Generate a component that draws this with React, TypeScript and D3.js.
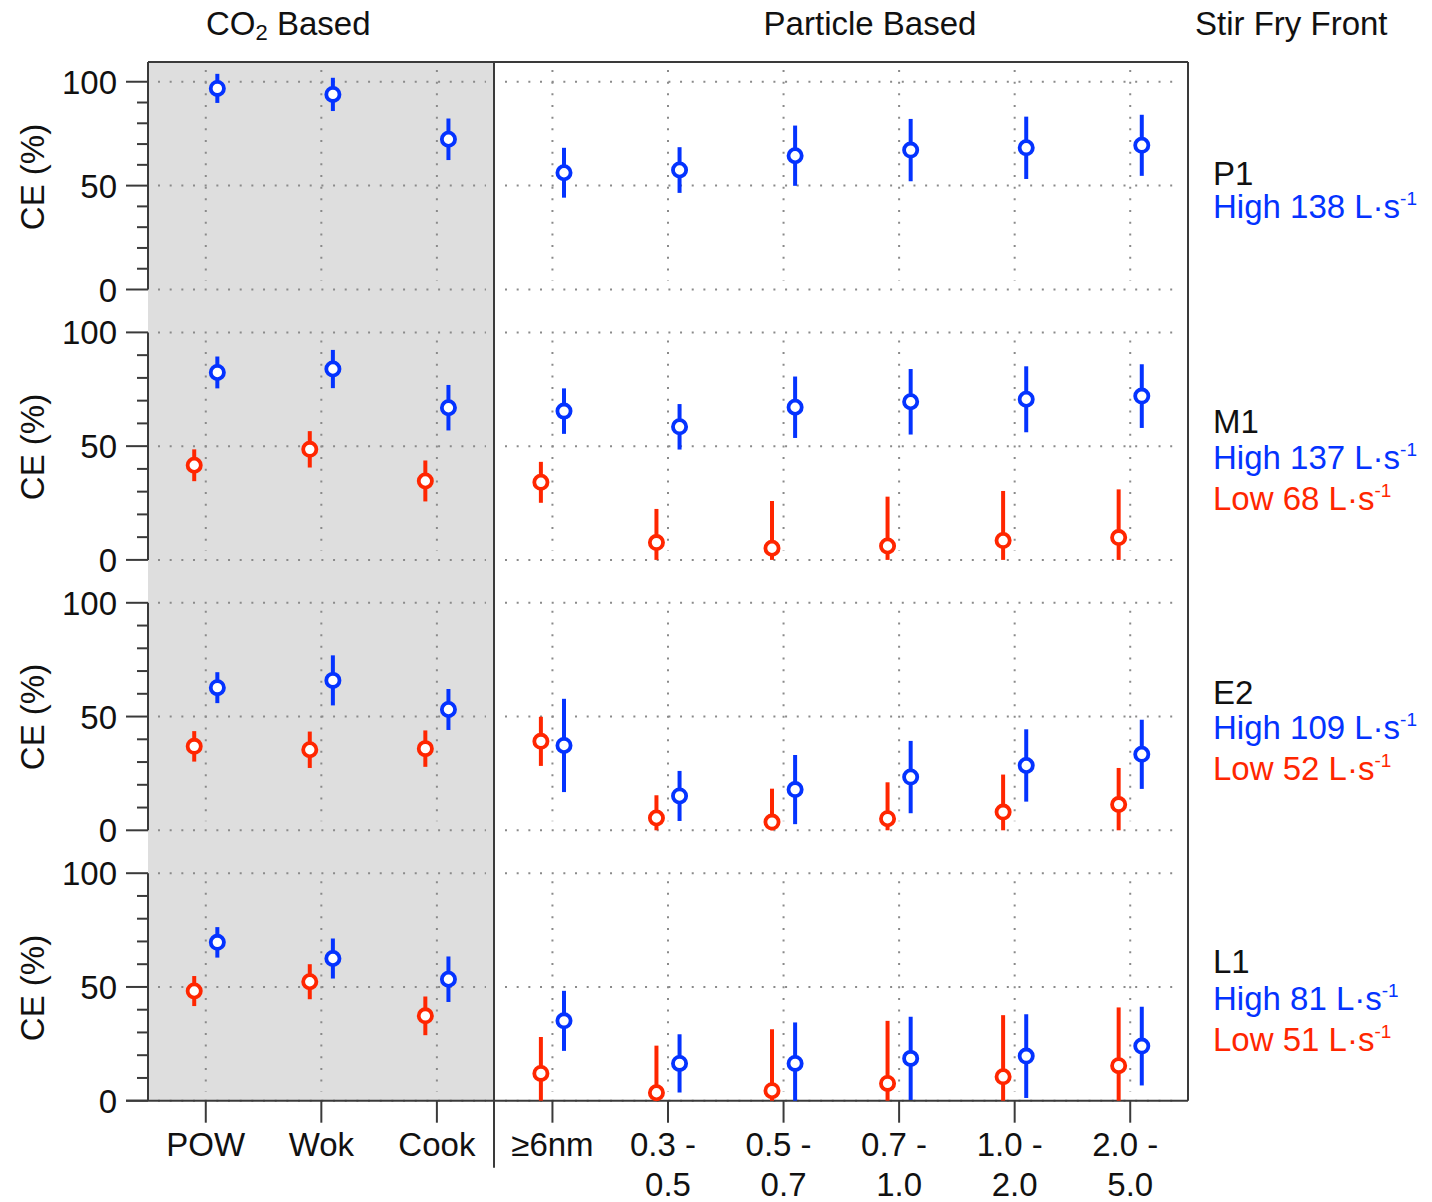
import React from "react";
import * as d3 from "d3";

// ---------- data ----------
const categories = ["POW", "Wok", "Cook", "≥6nm", "0.3-0.5", "0.5-0.7", "0.7-1.0", "1.0-2.0", "2.0-5.0"];
const tickLabelLines = [
  ["POW"], ["Wok"], ["Cook"], ["≥6nm"],
  ["0.3 -", "0.5"], ["0.5 -", "0.7"], ["0.7 -", "1.0"], ["1.0 -", "2.0"], ["2.0 -", "5.0"],
];
const yMajorTicks = [0, 50, 100];
const yMinorTicks = [10, 20, 30, 40, 60, 70, 80, 90];

const panelNames = ["P1", "M1", "E2", "L1"];
const highFlows = [138, 137, 109, 81];
const lowFlows = [null, 68, 52, 51];

// capture efficiency (%) and its uncertainty, per category
const p1High = [96.8, 93.9, 72.3, 56.2, 57.5, 64.4, 67.1, 68.2, 69.4];
const p1HighErr = [7, 8, 10, 12, 11, 14.5, 15, 15, 14.7];

const m1High = [82.4, 83.9, 66.9, 65.4, 58.5, 67.1, 69.5, 70.6, 72.0];
const m1HighErr = [7, 8.4, 10, 10, 10, 13.5, 14.4, 14.5, 14];
const m1Low = [41.6, 48.6, 34.7, 34.1, 7.6, 5.1, 6.1, 8.5, 9.8];
const m1LowErr = [7, 8, 9, 9, 14.8, 20.8, 21.7, 21.8, 21.2];

const e2High = [62.7, 65.9, 53.1, 37.3, 15.1, 17.9, 23.4, 28.5, 33.4];
const e2HighErr = [6.8, 11, 9, 20.5, 11, 15.2, 15.9, 15.9, 15.2];
const e2Low = [36.9, 35.4, 35.9, 39.1, 5.4, 3.6, 5.1, 8.0, 11.3];
const e2LowErr = [6.7, 8, 8, 10.8, 10, 14.7, 16, 16.5, 16.1];

const l1High = [69.6, 62.5, 53.4, 35.1, 16.4, 16.4, 18.6, 19.6, 24.0];
const l1HighErr = [6.7, 8.8, 10, 13.2, 12.8, 18, 18.3, 18.4, 17.3];
const l1Low = [48.2, 52.3, 37.3, 12.0, 3.5, 4.4, 7.6, 10.5, 15.4];
const l1LowErr = [6.6, 7.7, 8.5, 16, 20.7, 27, 27.5, 27.1, 25.6];

const highSeries = [
  { v: p1High, e: p1HighErr },
  { v: m1High, e: m1HighErr },
  { v: e2High, e: e2HighErr },
  { v: l1High, e: l1HighErr },
];
const lowSeries = [
  null,
  { v: m1Low, e: m1LowErr },
  { v: e2Low, e: e2LowErr },
  { v: l1Low, e: l1LowErr },
];

// ---------- layout ----------
const W = 1432;
const H = 1202;
const plotLeft = 148;
const plotRight = 1188;
const splitX = 494;
const panelTops = [62, 332.4, 602.8, 873.2];
const panelHeight = 227.5;
const panelMax = [109.5, 100, 100, 100];
const labelBaselines = [[185, 218], [433, 469, 510], [704, 739, 780], [973, 1010, 1051]];
const ceLabelY = [177, 447, 717, 988];

const BLUE = "#0433ff";
const RED = "#ff2600";
const AXIS = "#3a3a3a";
const GRID = "#8a8a8a";
const FONT = "'Liberation Sans', Arial, Helvetica, sans-serif";
const FS = 33;

export default function App() {
  const x = d3.scalePoint<string>().domain(categories).range([plotLeft, plotRight]).padding(0.5);
  const off = x.step() * 0.1;
  const bottomY = panelTops[3] + panelHeight;

  const panels = panelTops.map((top, i) => {
    const y = d3.scaleLinear().domain([0, panelMax[i]]).range([top + panelHeight, top]);
    return { top, y, i };
  });

  const dash = "2 9.67";

  const renderSeries = (y: d3.ScaleLinear<number, number>, s: { v: number[]; e: number[] } | null, color: string, dx: number, key: string) => {
    if (!s) return null;
    return (
      <g key={key}>
        {s.v.map((v, j) => {
          const cx = (x(categories[j]) as number) + dx;
          const lo = Math.max(0, v - s.e[j]);
          const hi = v + s.e[j];
          return <line key={"e" + j} x1={cx} x2={cx} y1={y(lo)} y2={y(hi)} stroke={color} strokeWidth={4} />;
        })}
        {s.v.map((v, j) => {
          const cx = (x(categories[j]) as number) + dx;
          return <circle key={"c" + j} cx={cx} cy={y(v)} r={6.6} fill="#fff" stroke={color} strokeWidth={3.8} />;
        })}
      </g>
    );
  };

  return (
    <svg width={W} height={H} style={{ position: "absolute", left: 0, top: 0, background: "#fff" }} fontFamily={FONT}>
      {/* shaded CO2 region */}
      <rect x={plotLeft} y={panelTops[0]} width={splitX - plotLeft} height={bottomY - panelTops[0]} fill="#dedede" />

      {/* grids */}
      {panels.map(({ top, y, i }) => (
        <g key={"grid" + i}>
          {yMajorTicks.map((t) => (
            <g key={t}>
              <line x1={plotLeft + 10} x2={splitX - 8} y1={y(t)} y2={y(t)} stroke={GRID} strokeWidth={2} strokeDasharray={dash} />
              <line x1={splitX + 11} x2={plotRight - 8} y1={y(t)} y2={y(t)} stroke={GRID} strokeWidth={2} strokeDasharray={dash} />
            </g>
          ))}
          {categories.map((c) => (
            <line key={c} x1={x(c)} x2={x(c)} y1={(i === 0 ? top : y(100)) + 8} y2={y(0) - 9} stroke={GRID} strokeWidth={2} strokeDasharray={dash} />
          ))}
        </g>
      ))}

      {/* frame */}
      <line x1={plotLeft} x2={plotRight} y1={panelTops[0]} y2={panelTops[0]} stroke={AXIS} strokeWidth={2} />
      <line x1={plotRight} x2={plotRight} y1={panelTops[0]} y2={bottomY} stroke={AXIS} strokeWidth={2} />
      <line x1={splitX} x2={splitX} y1={panelTops[0]} y2={bottomY + 67} stroke={AXIS} strokeWidth={2} />
      <line x1={plotLeft - 22} x2={plotRight} y1={bottomY} y2={bottomY} stroke={AXIS} strokeWidth={2} />

      {/* y axes */}
      {panels.map(({ top, y, i }) => (
        <g key={"ax" + i}>
          <line x1={plotLeft} x2={plotLeft} y1={i === 0 ? top : y(100)} y2={y(0)} stroke={AXIS} strokeWidth={2} />
          {yMajorTicks.map((t) => (
            <g key={t}>
              <line x1={plotLeft - 22} x2={plotLeft} y1={y(t)} y2={y(t)} stroke={AXIS} strokeWidth={2} />
              <text x={117} y={y(t) + 12} textAnchor="end" fontSize={FS} fill="#111">{t}</text>
            </g>
          ))}
          {yMinorTicks.map((t) => (
            <line key={t} x1={plotLeft - 11} x2={plotLeft} y1={y(t)} y2={y(t)} stroke={AXIS} strokeWidth={2} />
          ))}
          <text transform={`translate(44,${ceLabelY[i]}) rotate(-90)`} textAnchor="middle" fontSize={FS} fill="#111">CE (%)</text>
        </g>
      ))}

      {/* x axis ticks and labels */}
      {categories.map((c, j) => (
        <g key={"xt" + c}>
          <line x1={x(c)} x2={x(c)} y1={bottomY} y2={bottomY + 22} stroke={AXIS} strokeWidth={2} />
          {tickLabelLines[j].map((ln, k) => (
            <text key={k} x={(x(c) as number) - (k === 0 && tickLabelLines[j].length > 1 ? 5 : 0)} y={1156 + k * 40} textAnchor="middle" fontSize={FS} fill="#111">{ln}</text>
          ))}
        </g>
      ))}

      {/* data */}
      {panels.map(({ y, i }) => (
        <g key={"d" + i}>
          {renderSeries(y, lowSeries[i], RED, -off, "low")}
          {renderSeries(y, highSeries[i], BLUE, off, "high")}
        </g>
      ))}

      {/* group titles */}
      <text x={206} y={35} fontSize={FS} fill="#111">
        CO<tspan fontSize={22} dy={5}>2</tspan><tspan dy={-5}> Based</tspan>
      </text>
      <text x={870} y={35} textAnchor="middle" fontSize={FS} fill="#111">Particle Based</text>
      <text x={1195} y={35} fontSize={FS} fill="#111">Stir Fry Front</text>

      {/* panel legends */}
      {panelNames.map((name, i) => {
        const ys = labelBaselines[i];
        return (
          <g key={"lg" + name}>
            <text x={1213} y={ys[0]} fontSize={FS} fill="#111">{name}</text>
            <text x={1213} y={ys[1]} fontSize={FS} fill={BLUE}>
              {`High ${highFlows[i]} L·s`}<tspan fontSize={19} dy={-13}>-1</tspan>
            </text>
            {lowFlows[i] !== null && (
              <text x={1213} y={ys[2]} fontSize={FS} fill={RED}>
                {`Low ${lowFlows[i]} L·s`}<tspan fontSize={19} dy={-13}>-1</tspan>
              </text>
            )}
          </g>
        );
      })}
    </svg>
  );
}
